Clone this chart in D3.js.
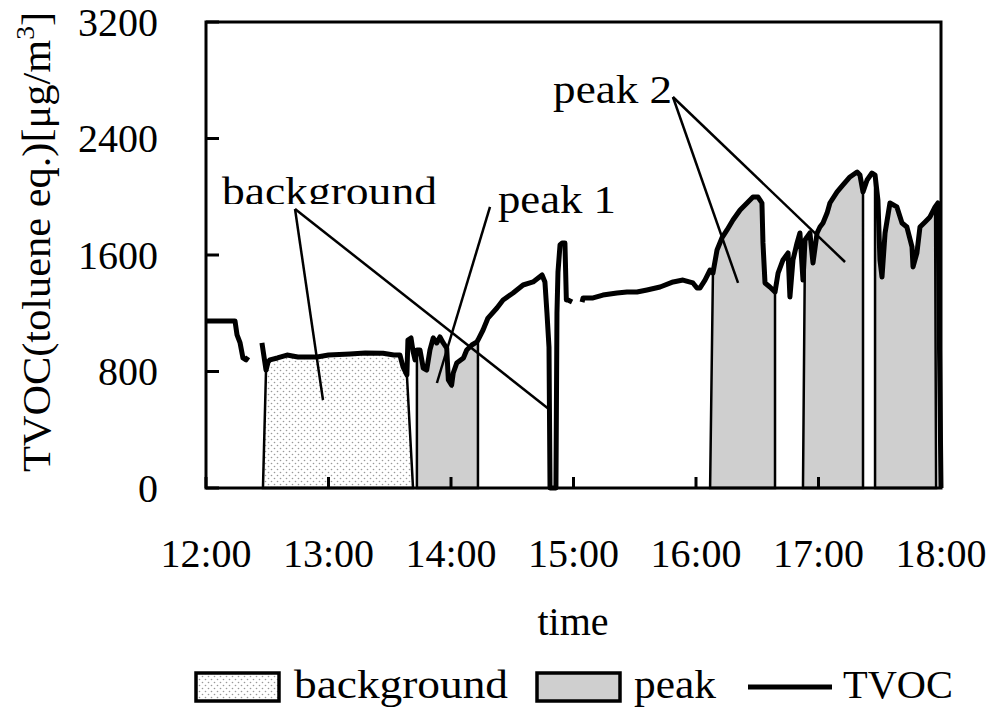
<!DOCTYPE html>
<html>
<head>
<meta charset="utf-8">
<script src="https://cdn.jsdelivr.net/npm/d3@7/dist/d3.min.js"></script>
<style>
  body { margin: 0; background: #fff; }
  text { font-family: "Liberation Serif", "Times New Roman", serif; fill: #000; }
</style>
</head>
<body>
<svg id="chart" width="1000" height="715"></svg>
<script>
// minutes after 12:00, TVOC [ug/m3]; null = no data
var tvocSeries = [
  [0,1147],[14.2,1147],[15.2,1051],[16.7,996],[18.1,893],[19.6,880],[20.6,900],[null,null],
  [27.4,996],[29.4,810],[30.4,865],[31.3,880],[35,893],[39.7,913],[45,900],[54.4,900],[60,913],
  [70.5,920],[78,927],[86.7,925],[92,913],[95.0,913],[96.5,831],[98.4,776],[98.9,1016],
  [100.4,1030],[101.4,940],[102.4,880],[103.3,948],[104.8,948],[106.4,824],[108.1,810],
  [109.7,948],[111.3,1030],[113.0,996],[114.6,1037],[116.2,996],[117.9,961],[118.7,742],
  [120.3,707],[121.1,790],[122.8,858],[126.1,893],[127.7,948],[130.2,982],[132.7,1003],
  [133.2,1016],[135.7,1085],[138.1,1167],[142.5,1236],[145.5,1291],[150.4,1339],[155.3,1394],
  [160.2,1415],[164.6,1463],[166.0,1415],[167.0,1202],[168.0,968],[168.5,0],[171.4,0],
  [171.9,1200],[172.4,1483],[173.4,1669],[174.4,1682],[175.8,1682],[176.5,1291],[177.3,1291],
  [179.3,1277],[null,null],
  [184.2,1277],[184.7,1305],[189.6,1305],[194.4,1325],[201.3,1339],[206.2,1346],[211.1,1346],
  [216.0,1360],[222.4,1380],[228.8,1415],[233.6,1428],[238.5,1408],[240.5,1373],[241.9,1373],
  [244.4,1428],[246.9,1497],[248.3,1476],[250.3,1634],[252.7,1717],[255.2,1772],[258.1,1840],
  [261.6,1909],[265.0,1957],[267.9,1998],[270.4,1998],[272.3,1957],[272.8,1683],[273.8,1408],
  [276.2,1380],[278.7,1346],[280.2,1476],[282.6,1566],[285.1,1614],[286.0,1312],[287.5,1566],
  [289.5,1683],[290.9,1751],[292.4,1428],[293.4,1703],[294.4,1724],[295.8,1751],[297.3,1545],
  [299.3,1751],[300.7,1792],[302.2,1820],[304.2,1888],[305.6,1957],[309.1,2033],[312.0,2081],
  [315.4,2136],[318.9,2170],[320.3,2149],[321.8,2033],[323.8,2115],[326.2,2163],[327.7,2149],
  [329.1,1978],[330.1,1566],[331.1,1449],[332.6,1751],[335.0,1957],[338.4,1930],[340.9,1820],
  [343.3,1792],[345.8,1655],[346.3,1518],[348.2,1614],[349.7,1792],[352.2,1827],[354.6,1861],
  [357.1,1930],[358.5,1957],[360,0]
];

// shaded intervals: [base start, top start, top end, base end] in minutes
var backgroundSpans = [[27.9, 29.4, 98.4, 101.4]];
var peakSpans = [
  [103.3, 103.3, 133.2, 133.2],
  [246.9, 248.3, 278.7, 278.7],
  [292.4, 293.4, 321.8, 321.8],
  [327.7, 327.7, 357.1, 357.6]
];

var xTicks = [0, 60, 120, 180, 240, 300, 360];
var xTickLabels = ["12:00", "13:00", "14:00", "15:00", "16:00", "17:00", "18:00"];
var yTicks = [0, 800, 1600, 2400, 3200];

// annotation: label text, label position [t, v], leader line ends
var notes = [
  {text: "background", at: [7.8, 1943], w: 215, from: [43.6, 1916], to: [[57.3, 604], [168.5, 536]], clip: true},
  {text: "peak 1", at: [143.0, 1888], w: 118, from: [139.1, 1930], to: [[113.1, 721]]},
  {text: "peak 2", at: [170.0, 2644], w: 119, from: [228.7, 2685], to: [[260.6, 1408], [313.0, 1552]]}
];

var plotL = 206, plotR = 941, plotT = 22, plotB = 488;

var svg = d3.select("#chart");
var x = d3.scaleLinear().domain([0, 360]).range([plotL, plotR]);
var y = d3.scaleLinear().domain([0, 3200]).range([plotB, plotT]);

var defs = svg.append("defs");
var pat = defs.append("pattern").attr("id", "dots")
  .attr("patternUnits", "userSpaceOnUse").attr("width", 6).attr("height", 6);
pat.append("rect").attr("width", 6).attr("height", 6).attr("fill", "#fff");
pat.append("circle").attr("cx", 1.5).attr("cy", 1.5).attr("r", 0.8).attr("fill", "#999");
pat.append("circle").attr("cx", 4.5).attr("cy", 4.5).attr("r", 0.8).attr("fill", "#999");

var valid = tvocSeries.filter(function(d){ return d[0] != null; });

function spanPoints(s) {
  var pts = [[s[0], 0]];
  valid.forEach(function(d){ if (d[0] >= s[1] && d[0] <= s[2]) pts.push(d); });
  pts.push([s[3], 0]);
  return pts;
}

var poly = d3.line().x(function(d){ return x(d[0]); }).y(function(d){ return y(d[1]); });

svg.selectAll(".bg").data(backgroundSpans).enter().append("path")
  .attr("d", function(s){ return poly(spanPoints(s)) + "Z"; })
  .attr("fill", "url(#dots)").attr("stroke", "#000").attr("stroke-width", 2.5);

svg.selectAll(".pk").data(peakSpans).enter().append("path")
  .attr("d", function(s){ return poly(spanPoints(s)) + "Z"; })
  .attr("fill", "#cfcfcf").attr("stroke", "#000").attr("stroke-width", 2.5);

var line = d3.line()
  .defined(function(d){ return d[0] != null; })
  .x(function(d){ return x(d[0]); })
  .y(function(d){ return y(d[1]); });

svg.append("path").datum(tvocSeries)
  .attr("d", line).attr("fill", "none").attr("stroke", "#000")
  .attr("stroke-width", 5).attr("stroke-linejoin", "round");

// frame
svg.append("rect").attr("x", plotL).attr("y", plotT)
  .attr("width", plotR - plotL).attr("height", plotB - plotT)
  .attr("fill", "none").attr("stroke", "#000").attr("stroke-width", 3);

// inward ticks
svg.selectAll(".ytick").data(yTicks).enter().append("line")
  .attr("x1", plotL).attr("x2", plotL + 13)
  .attr("y1", function(d){ return y(d); }).attr("y2", function(d){ return y(d); })
  .attr("stroke", "#000").attr("stroke-width", 3);
svg.selectAll(".xtick").data(xTicks).enter().append("line")
  .attr("x1", function(d){ return x(d); }).attr("x2", function(d){ return x(d); })
  .attr("y1", plotB).attr("y2", plotB - 11)
  .attr("stroke", "#000").attr("stroke-width", 3);

// tick labels
svg.selectAll(".ylab").data(yTicks).enter().append("text")
  .attr("x", plotL - 48).attr("y", function(d){ return y(d) + 13.5; })
  .attr("text-anchor", "end").attr("font-size", 40).text(function(d){ return d; });
svg.selectAll(".xlab").data(xTicks).enter().append("text")
  .attr("x", function(d){ return x(d); }).attr("y", plotB + 79)
  .attr("text-anchor", "middle").attr("font-size", 40)
  .text(function(d, i){ return xTickLabels[i]; });

svg.append("text").attr("x", 573).attr("y", 635).attr("text-anchor", "middle")
  .attr("font-size", 40).text("time");

var yl = svg.append("text")
  .attr("transform", "translate(50,242) rotate(-90) scale(1.06,1)")
  .attr("text-anchor", "middle").attr("font-size", 40);
yl.append("tspan").text("TVOC(toluene eq.)[\u03bcg/m");
yl.append("tspan").attr("font-size", 26).attr("dy", -16).text("3");
yl.append("tspan").attr("dy", 16).text("]");

// annotations
notes.forEach(function(n, i){
  var g = svg.append("g");
  n.to.forEach(function(p){
    g.append("line").attr("x1", x(n.from[0])).attr("y1", y(n.from[1]))
      .attr("x2", x(p[0])).attr("y2", y(p[1]))
      .attr("stroke", "#000").attr("stroke-width", 2.5);
  });
  var t = g.append("text").attr("x", x(n.at[0])).attr("y", y(n.at[1]))
    .attr("font-size", 40).attr("textLength", n.w).attr("lengthAdjust", "spacingAndGlyphs")
    .text(n.text);
  if (n.clip) {
    defs.append("clipPath").attr("id", "clip" + i).append("rect")
      .attr("x", 0).attr("y", 0).attr("width", 1000).attr("height", y(n.at[1]) - 1);
    t.attr("clip-path", "url(#clip" + i + ")");
  }
});

// legend
var lg = svg.append("g");
lg.append("rect").attr("x", 196).attr("y", 673).attr("width", 83).attr("height", 28)
  .attr("fill", "url(#dots)").attr("stroke", "#000").attr("stroke-width", 3.5);
lg.append("text").attr("x", 294).attr("y", 698).attr("font-size", 40)
  .attr("textLength", 214).attr("lengthAdjust", "spacingAndGlyphs").text("background");
lg.append("rect").attr("x", 537).attr("y", 673).attr("width", 83).attr("height", 28)
  .attr("fill", "#cfcfcf").attr("stroke", "#000").attr("stroke-width", 3.5);
lg.append("text").attr("x", 634).attr("y", 698).attr("font-size", 40)
  .attr("textLength", 82).attr("lengthAdjust", "spacingAndGlyphs").text("peak");
lg.append("line").attr("x1", 748).attr("x2", 832).attr("y1", 687).attr("y2", 687)
  .attr("stroke", "#000").attr("stroke-width", 5);
lg.append("text").attr("x", 843).attr("y", 698).attr("font-size", 40)
  .attr("textLength", 110).attr("lengthAdjust", "spacingAndGlyphs").text("TVOC");
</script>
</body>
</html>
